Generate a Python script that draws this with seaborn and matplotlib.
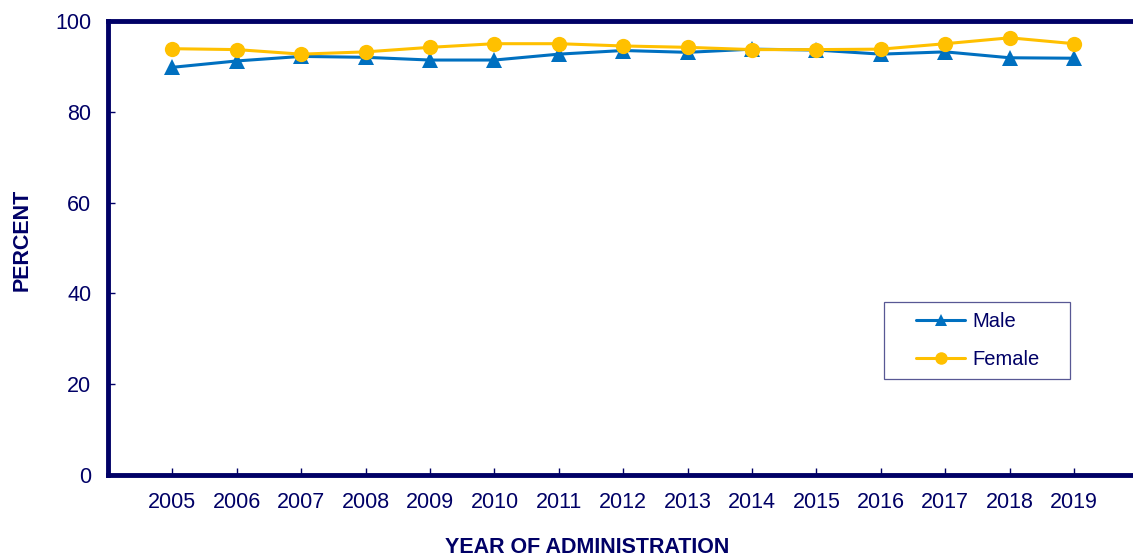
import matplotlib
matplotlib.use("Agg")
import matplotlib.pyplot as plt
from matplotlib.legend_handler import HandlerLine2D
from matplotlib.lines import Line2D
import seaborn as sns
import pandas as pd

years = [2005, 2006, 2007, 2008, 2009, 2010, 2011, 2012, 2013, 2014, 2015, 2016, 2017, 2018, 2019]
male = [89.8, 91.2, 92.2, 92.0, 91.4, 91.4, 92.7, 93.5, 93.1, 93.8, 93.6, 92.7, 93.2, 91.9, 91.8]
female = [93.9, 93.7, 92.7, 93.2, 94.2, 95.0, 95.0, 94.5, 94.2, 93.7, 93.7, 93.8, 95.0, 96.3, 95.0]
series_names = ["Male", "Female"]
y_ticks = [0, 20, 40, 60, 80, 100]

navy = "#000066"
colors = {"Male": "#0070C0", "Female": "#FFC000"}
markers = {"Male": "^", "Female": "o"}

df = pd.DataFrame({
    "year": years * 2,
    "percent": male + female,
    "sex": [series_names[0]] * len(years) + [series_names[1]] * len(years),
})

sns.set_theme(style="white")
plt.rcParams["font.family"] = ["Liberation Sans", "DejaVu Sans"]

fig = plt.figure(figsize=(11.33, 5.57), dpi=100)
ax = fig.add_axes([0.0953, 0.1472, 0.9096, 0.8151])

sns.lineplot(data=df, x="year", y="percent", hue="sex", style="sex",
             hue_order=series_names, style_order=series_names,
             palette=colors, markers=markers, dashes=False,
             linewidth=2.2, markersize=11, markeredgewidth=0,
             ax=ax, legend=True)

ax.set_xlim(2004, 2020)
ax.set_ylim(0, 100)
ax.set_xticks(years)
ax.set_xticklabels([str(y) for y in years])
ax.set_yticks(y_ticks)

for side in ["left", "bottom", "top", "right"]:
    ax.spines[side].set_color(navy)
    ax.spines[side].set_linewidth(3.5)
    ax.spines[side].set_visible(True)

ax.tick_params(axis="both", direction="in", length=5, width=1, color=navy,
               labelcolor=navy, labelsize=15.5, left=True, bottom=True)
ax.tick_params(axis="x", pad=12)
ax.tick_params(axis="y", pad=12)

ax.set_xlabel("YEAR OF ADMINISTRATION", fontsize=15.5, fontweight="bold", color=navy)
ax.set_ylabel("PERCENT", fontsize=15.5, fontweight="bold", color=navy)
ax.xaxis.set_label_coords(0.465, -0.137)
ax.yaxis.set_label_coords(-0.073, 0.518)

handles, labels = ax.get_legend_handles_labels()
leg = ax.legend(handles, labels, title=None, loc="upper left",
                bbox_to_anchor=(0.7527, 0.209, 0.1804, 0.172), mode="expand",
                frameon=True, fancybox=False, fontsize=14.5, handlelength=3.55,
                labelspacing=0.95, borderpad=0.5, handletextpad=0.35,
                borderaxespad=0,
                handler_map={Line2D: HandlerLine2D(xpad=1.1)})
leg.get_frame().set_edgecolor("#2E2E7A")
leg.get_frame().set_linewidth(0.9)
for t in leg.get_texts():
    t.set_color(navy)
for h in leg.legend_handles:
    h.set_markersize(9)

fig.savefig("out.png", dpi=100)
